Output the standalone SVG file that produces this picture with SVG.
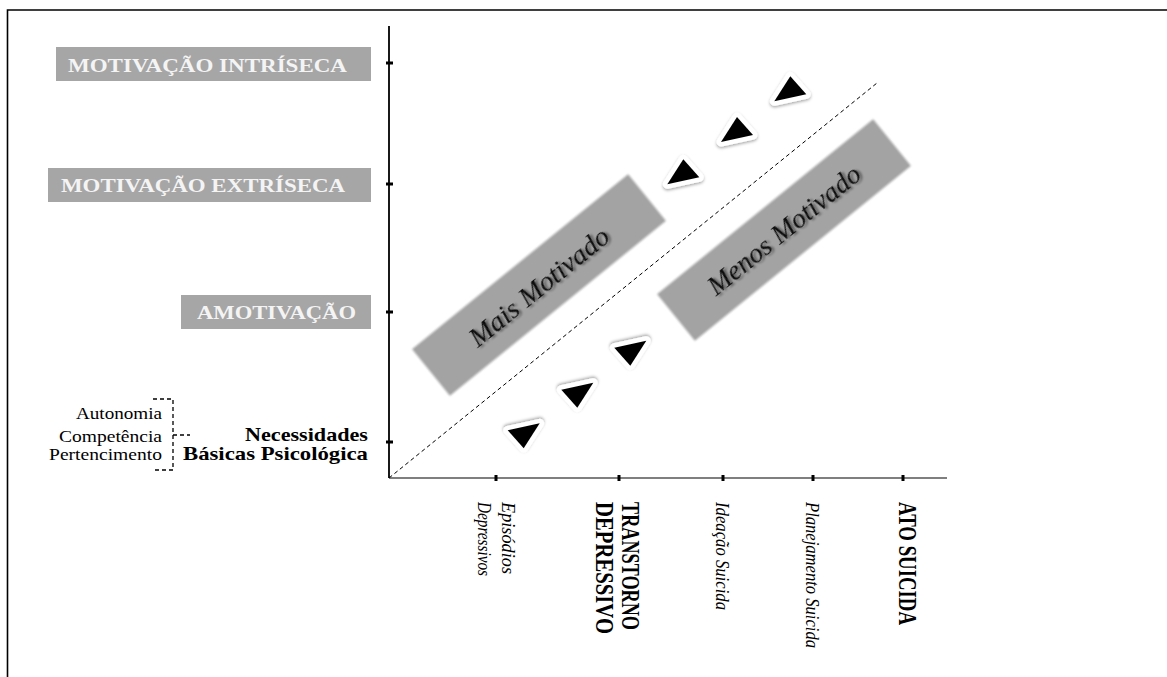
<svg xmlns="http://www.w3.org/2000/svg" xmlns:xlink="http://www.w3.org/1999/xlink" width="1167" height="677" viewBox="0 0 1167 677">
<style>
.lbl{fill:#a6a6a6}
.lbltxt{font-family:"Liberation Serif",serif;font-weight:bold;font-size:19px;fill:#f4f4f4}
.need{font-family:"Liberation Serif",serif;font-weight:bold;font-size:19px;fill:#000;text-anchor:end}
.sub{font-family:"Liberation Serif",serif;font-size:16.5px;fill:#000;text-anchor:end}
.band{fill:#a3a3a3}
.bandtxt{font-family:"Liberation Serif",serif;font-style:italic;font-size:28px;fill:#111;text-anchor:middle}
.xit{font-family:"Liberation Serif",serif;font-style:italic;font-size:19px;fill:#000}
.xb{font-family:"Liberation Serif",serif;font-weight:bold;font-size:25px;fill:#000}
.tk{fill:#000}
</style>
<defs>
<filter id="soft" x="-10%" y="-10%" width="120%" height="120%">
<feGaussianBlur stdDeviation="1.3"/>
</filter>
<filter id="tshadow" x="-10%" y="-30%" width="120%" height="160%">
<feGaussianBlur in="SourceAlpha" stdDeviation="1.2" result="b"/>
<feOffset dx="1.5" dy="1.5" result="o"/>
<feFlood flood-color="#000" flood-opacity="0.45"/>
<feComposite in2="o" operator="in" result="s"/>
<feMerge><feMergeNode in="s"/><feMergeNode in="SourceGraphic"/></feMerge>
</filter>
<filter id="drop" x="-40%" y="-40%" width="180%" height="180%">
<feDropShadow dx="0" dy="1.5" stdDeviation="1.5" flood-color="#000" flood-opacity="0.35"/>
</filter>
<g id="tri">
<polygon points="0,-14 -16,11 16,4" fill="#000" stroke="#fff" stroke-width="9" stroke-linejoin="round" paint-order="stroke" filter="url(#drop)"/>
</g>
</defs>
<rect x="0" y="0" width="1167" height="677" fill="#fff"/>
<g id="frame">
<path d="M7.5,677 V10 H1167" fill="none" stroke="#000" stroke-width="1.6"/>
</g>
<g id="axes">
<line x1="389" y1="26" x2="389" y2="478" stroke="#000" stroke-width="1.8"/>
<line x1="389" y1="478" x2="947" y2="478" stroke="#555" stroke-width="1.6"/>
<rect class="tk" x="386" y="61.5" width="7" height="3"/>
<rect class="tk" x="386" y="182.5" width="7" height="3"/>
<rect class="tk" x="386" y="310.5" width="7" height="3"/>
<rect class="tk" x="386" y="440.5" width="7" height="3"/>
<rect class="tk" x="494.5" y="475" width="3" height="6"/>
<rect class="tk" x="617.5" y="475" width="3" height="6"/>
<rect class="tk" x="721.5" y="475" width="3" height="6"/>
<rect class="tk" x="811.5" y="475" width="3" height="6"/>
<rect class="tk" x="901.5" y="475" width="3" height="6"/>
</g>
<g id="connectors">
<line x1="389" y1="478" x2="877" y2="83" stroke="#000" stroke-width="1" stroke-dasharray="4,3"/>
<path d="M153,399 H173 V470 H153 M173,435 H190" fill="none" stroke="#000" stroke-width="1.3" stroke-dasharray="4,3"/>
</g>
<g id="motivacao-intrinseca">
<rect class="lbl" x="56" y="47" width="315" height="34"/>
<text class="lbltxt" x="68" y="72" textLength="279" lengthAdjust="spacingAndGlyphs">MOTIVAÇÃO INTRÍSECA</text>
</g>
<g id="motivacao-extrinseca">
<rect class="lbl" x="48" y="168" width="323" height="34"/>
<text class="lbltxt" x="61" y="192" textLength="284" lengthAdjust="spacingAndGlyphs">MOTIVAÇÃO EXTRÍSECA</text>
</g>
<g id="amotivacao">
<rect class="lbl" x="181" y="295" width="190" height="34"/>
<text class="lbltxt" x="197" y="319" textLength="159" lengthAdjust="spacingAndGlyphs">AMOTIVAÇÃO</text>
</g>
<g id="necessidades">
<text class="need" x="368" y="441" textLength="123" lengthAdjust="spacingAndGlyphs">Necessidades</text>
<text class="need" x="368" y="460" textLength="185" lengthAdjust="spacingAndGlyphs">Básicas Psicológica</text>
</g>
<g id="necessidades-lista">
<text class="sub" x="162" y="419" textLength="86" lengthAdjust="spacingAndGlyphs">Autonomia</text>
<text class="sub" x="162" y="442" textLength="103" lengthAdjust="spacingAndGlyphs">Competência</text>
<text class="sub" x="162" y="460" textLength="113" lengthAdjust="spacingAndGlyphs">Pertencimento</text>
</g>
<g id="mais-motivado">
<rect class="band" x="-139" y="-30" width="278" height="60" transform="translate(539,285) rotate(-39)" filter="url(#soft)"/>
<text class="bandtxt" transform="translate(539,287) rotate(-39)" y="9" textLength="172" lengthAdjust="spacingAndGlyphs" filter="url(#tshadow)">Mais Motivado</text>
</g>
<g id="menos-motivado">
<rect class="band" x="-139" y="-30" width="278" height="60" transform="translate(784,230) rotate(-39)" filter="url(#soft)"/>
<text class="bandtxt" transform="translate(784,230) rotate(-39)" y="9" textLength="189" lengthAdjust="spacingAndGlyphs" filter="url(#tshadow)">Menos Motivado</text>
</g>
<g id="setas-acima">
<use xlink:href="#tri" transform="translate(683.3,173.3)"/>
<use xlink:href="#tri" transform="translate(737,131)"/>
<use xlink:href="#tri" transform="translate(790.3,90.3)"/>
</g>
<g id="setas-abaixo">
<use xlink:href="#tri" transform="translate(523.7,434.3) rotate(180)"/>
<use xlink:href="#tri" transform="translate(577.3,393.7) rotate(180)"/>
<use xlink:href="#tri" transform="translate(630.3,351.7) rotate(180)"/>
</g>
<g id="episodios">
<text class="xit" transform="translate(502,502) rotate(90)" textLength="72" lengthAdjust="spacingAndGlyphs">Episódios</text>
<text class="xit" transform="translate(478,502) rotate(90)" textLength="74" lengthAdjust="spacingAndGlyphs">Depressivos</text>
</g>
<g id="transtorno">
<text class="xb" transform="translate(622,502) rotate(90)" textLength="128" lengthAdjust="spacingAndGlyphs">TRANSTORNO</text>
<text class="xb" transform="translate(596,502) rotate(90)" textLength="132" lengthAdjust="spacingAndGlyphs">DEPRESSIVO</text>
</g>
<g id="ideacao">
<text class="xit" transform="translate(716,502) rotate(90)" textLength="108" lengthAdjust="spacingAndGlyphs">Ideação  Suicida</text>
</g>
<g id="planejamento">
<text class="xit" transform="translate(806,502) rotate(90)" textLength="146" lengthAdjust="spacingAndGlyphs">Planejamento  Suicida</text>
</g>
<g id="ato">
<text class="xb" transform="translate(899,502) rotate(90)" textLength="123" lengthAdjust="spacingAndGlyphs">ATO SUICIDA</text>
</g>
</svg>
